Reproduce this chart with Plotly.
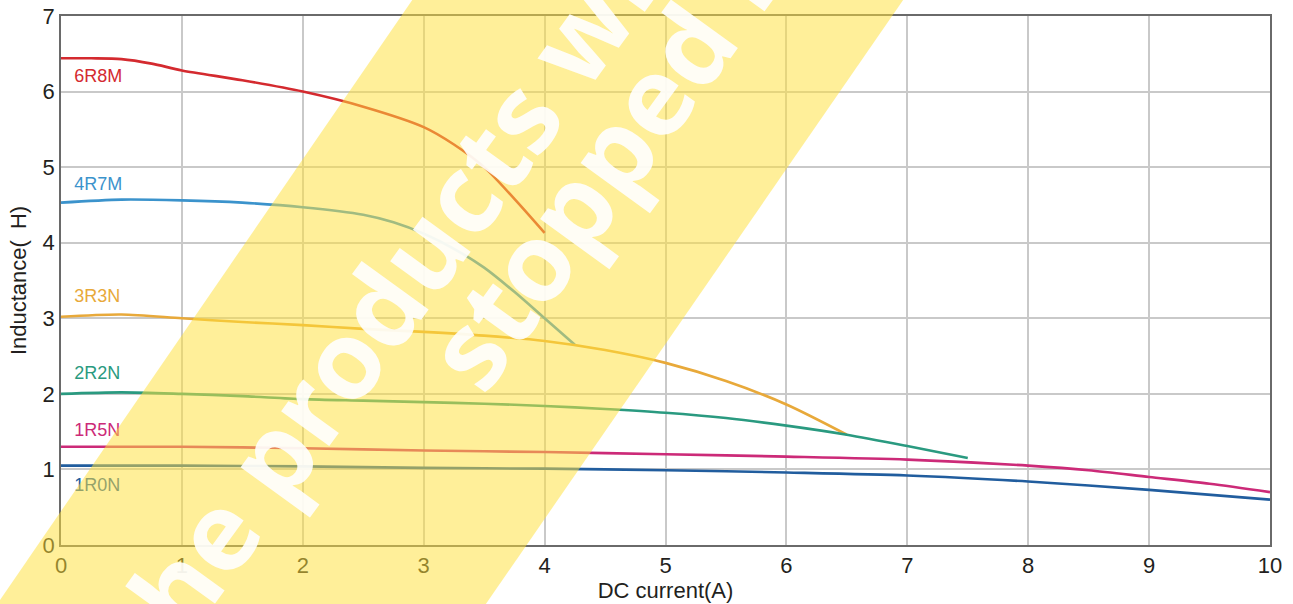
import plotly.graph_objects as go

# ---- data ----
x_6r8m = [0, 0.25, 0.5, 0.75, 1, 1.5, 2, 2.5, 3, 3.25, 3.5, 3.75, 4]
y_6r8m = [6.44, 6.44, 6.43, 6.37, 6.28, 6.15, 6.0, 5.80, 5.53, 5.30, 5.0, 4.58, 4.13]

x_4r7m = [0, 0.5, 1, 1.5, 2, 2.5, 2.75, 3, 3.25, 3.5, 3.75, 4, 4.25]
y_4r7m = [4.53, 4.57, 4.56, 4.53, 4.47, 4.37, 4.27, 4.12, 3.92, 3.67, 3.35, 3.0, 2.65]

x_3r3n = [0, 0.5, 1, 1.5, 2, 2.5, 3, 3.5, 4, 4.5, 5, 5.5, 6, 6.5]
y_3r3n = [3.02, 3.05, 3.0, 2.95, 2.91, 2.86, 2.82, 2.77, 2.70, 2.58, 2.41, 2.17, 1.86, 1.46]

x_2r2n = [0, 0.5, 1, 1.5, 2, 2.5, 3, 3.5, 4, 4.5, 5, 5.5, 6, 6.5, 7, 7.5]
y_2r2n = [2.0, 2.02, 2.0, 1.97, 1.93, 1.91, 1.89, 1.87, 1.84, 1.80, 1.75, 1.68, 1.58, 1.46, 1.31, 1.15]

x_1r5n = [0, 1, 2, 3, 4, 5, 6, 7, 8, 8.5, 9, 9.5, 10]
y_1r5n = [1.30, 1.30, 1.28, 1.25, 1.23, 1.20, 1.17, 1.13, 1.05, 0.99, 0.90, 0.81, 0.70]

x_1r0n = [0, 1, 2, 3, 4, 5, 6, 7, 8, 9, 10]
y_1r0n = [1.05, 1.05, 1.04, 1.02, 1.01, 0.99, 0.96, 0.92, 0.84, 0.73, 0.60]

series_names = ["6R8M", "4R7M", "3R3N", "2R2N", "1R5N", "1R0N"]
label_x = [0.11, 0.11, 0.11, 0.11, 0.11, 0.11]
label_y = [6.19, 4.76, 3.28, 2.25, 1.50, 0.77]

x_ticks = [0, 1, 2, 3, 4, 5, 6, 7, 8, 9, 10]
y_ticks = [0, 1, 2, 3, 4, 5, 6, 7]

watermark_line1 = "the products will be"
watermark_line2 = "stopped in production"

# ---- styles ----
colors = ["#d42a2f", "#3b93cc", "#e8a93a", "#2a9a80", "#cc2a78", "#215d9e"]
xs = [x_6r8m, x_4r7m, x_3r3n, x_2r2n, x_1r5n, x_1r0n]
ys = [y_6r8m, y_4r7m, y_3r3n, y_2r2n, y_1r5n, y_1r0n]

fig = go.Figure()
for name, x, y, c in zip(series_names, xs, ys, colors):
    fig.add_trace(go.Scatter(
        x=x, y=y, mode="lines", name=name,
        line=dict(color=c, width=2.6, shape="spline", smoothing=0.8),
        showlegend=False, hoverinfo="skip"))

fig.add_trace(go.Scatter(
    x=label_x, y=label_y, mode="text", text=series_names,
    textposition="middle right",
    textfont=dict(family="Liberation Sans, Arial, sans-serif", size=18, color=colors),
    showlegend=False, hoverinfo="skip"))

font_main = "Liberation Sans, Arial, Helvetica, sans-serif"

fig.update_layout(
    width=1293, height=604, autosize=False,
    margin=dict(l=61, r=23, t=16, b=59, pad=0),
    paper_bgcolor="white", plot_bgcolor="white",
    font=dict(family=font_main, size=22, color="#231f20"),
    xaxis=dict(
        range=[0, 10], tickvals=x_ticks, ticktext=[str(v) for v in x_ticks],
        showgrid=True, gridcolor="#c9c9c9", gridwidth=1.5, automargin=False,
        showline=True, linecolor="#6a6a6a", linewidth=1.5, mirror=True,
        zeroline=False, ticks="", tickfont=dict(size=22),
        title=dict(text="DC current(A)", font=dict(size=22), standoff=4),
    ),
    yaxis=dict(
        range=[0, 7], tickvals=y_ticks, ticktext=[str(v) for v in y_ticks],
        showgrid=True, gridcolor="#c9c9c9", gridwidth=1.5, automargin=False,
        showline=True, linecolor="#6a6a6a", linewidth=1.5, mirror=True,
        zeroline=False, ticks="", tickfont=dict(size=22),
        title=dict(text="Inductance(\u2002H)", font=dict(size=22), standoff=10),
    ),
)

# yellow watermark band (above the data, semi-transparent)
fig.add_shape(
    type="path", xref="paper", yref="paper", layer="above",
    path="M 0.3019,1.0681 L 0.7080,1.0681 L 0.3400,-0.1493 L -0.0641,-0.1493 Z",
    fillcolor="rgba(255,224,60,0.52)", line=dict(width=0),
)

wm_font = dict(family="Open Sans, Liberation Sans, sans-serif", size=109, color="white")
fig.add_annotation(
    x=0.3151, y=0.6181, xref="paper", yref="paper", text="<b>" + watermark_line1 + "</b>",
    textangle=-54, showarrow=False, font=wm_font, opacity=0.9,
    xanchor="center", yanchor="middle")
fig.add_annotation(
    x=0.6138, y=1.2476, xref="paper", yref="paper", text="<b>" + watermark_line2 + "</b>",
    textangle=-54, showarrow=False, font=wm_font, opacity=0.9,
    xanchor="center", yanchor="middle")

fig.write_html("out.html", config={"displayModeBar": False},
               post_script="document.body.style.margin='0';document.body.style.overflow='hidden';")
